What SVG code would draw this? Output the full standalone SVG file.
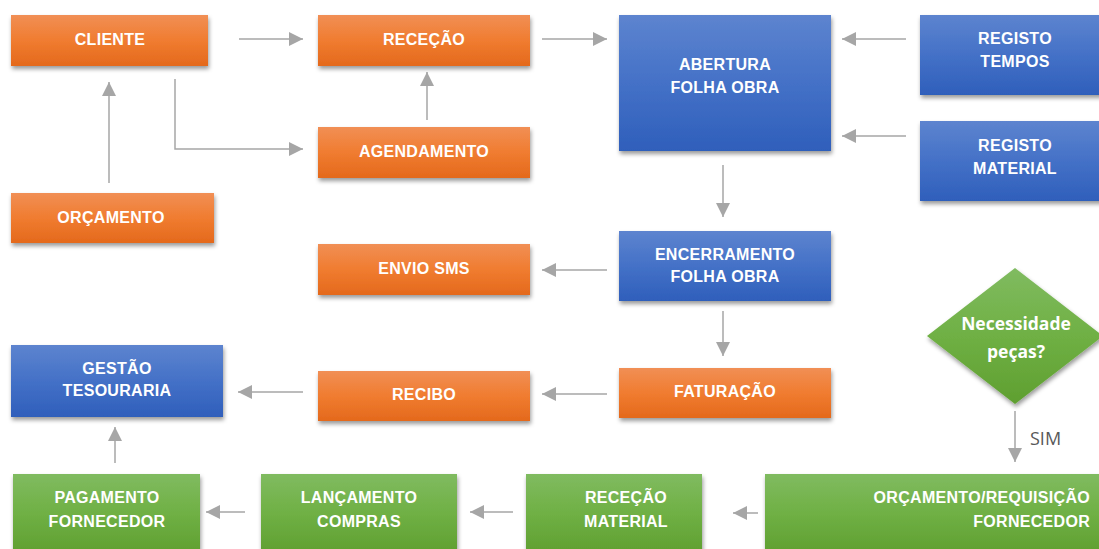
<svg xmlns="http://www.w3.org/2000/svg" width="1099" height="549" viewBox="0 0 1099 549">
<defs>
<linearGradient id="gO" x1="0" y1="0" x2="0" y2="1"><stop offset="0" stop-color="#f18f55"/><stop offset="0.5" stop-color="#f07c30"/><stop offset="1" stop-color="#e4691c"/></linearGradient>
<linearGradient id="gB" x1="0" y1="0" x2="0" y2="1"><stop offset="0" stop-color="#5d84cf"/><stop offset="0.5" stop-color="#4471c7"/><stop offset="1" stop-color="#2f5fbb"/></linearGradient>
<linearGradient id="gG" x1="0" y1="0" x2="0" y2="1"><stop offset="0" stop-color="#80bb60"/><stop offset="0.5" stop-color="#6fb044"/><stop offset="1" stop-color="#5f9f30"/></linearGradient>
<filter id="sh" x="-10%" y="-10%" width="130%" height="140%"><feDropShadow dx="1" dy="3" stdDeviation="2" flood-color="#000" flood-opacity="0.4"/></filter>
<marker id="ah" viewBox="0 0 10 10" refX="10" refY="5" markerWidth="16" markerHeight="14" markerUnits="userSpaceOnUse" orient="auto"><path d="M0,0 L10,5 L0,10 z" fill="#a6a6a6"/></marker>
</defs>
<style>
.o{fill:url(#gO);filter:url(#sh)}
.b{fill:url(#gB);filter:url(#sh)}
.g{fill:url(#gG);filter:url(#sh)}
.t{font-family:"Liberation Sans",Arial,sans-serif;font-weight:bold;font-size:16px;letter-spacing:0.3px;fill:#fff;text-anchor:middle}
.e{text-anchor:end}
.d{font-family:"Open Sans","Liberation Sans",sans-serif;font-weight:bold;font-size:17.5px;fill:#fff;text-anchor:middle}
.c{fill:none;stroke:#a6a6a6;stroke-width:1.5;marker-end:url(#ah)}
</style>
<rect width="1099" height="549" fill="#fff"/>
<g id="connectors">
<path class="c" d="M239,39 H303"/>
<path class="c" d="M542,39 H607"/>
<path class="c" d="M175,79 V149 H303"/>
<path class="c" d="M427,120 V72"/>
<path class="c" d="M109,183 V82"/>
<path class="c" d="M906,39 H842"/>
<path class="c" d="M906,136 H842"/>
<path class="c" d="M723,165 V217"/>
<path class="c" d="M607,270 H542"/>
<path class="c" d="M723,311 V356"/>
<path class="c" d="M607,394 H542"/>
<path class="c" d="M303,392 H238"/>
<path class="c" d="M115,463 V427"/>
<path class="c" d="M245,512 H206"/>
<path class="c" d="M513,512 H470"/>
<path class="c" d="M758,513 H733"/>
<path class="c" d="M1015,411 V462"/>
<text x="1030" y="445" font-family="'Open Sans','Liberation Sans',sans-serif" font-size="18" fill="#595959">SIM</text>
</g>
<g id="cliente"><rect class="o" x="11" y="15" width="197" height="51"/><text class="t" x="110" y="45">CLIENTE</text></g>
<g id="rececao"><rect class="o" x="318" y="15" width="212" height="51"/><text class="t" x="424" y="45">RECEÇÃO</text></g>
<g id="abertura"><rect class="b" x="619" y="15" width="212" height="136"/><text class="t" x="725" y="70">ABERTURA</text><text class="t" x="725" y="93">FOLHA OBRA</text></g>
<g id="registo-tempos"><rect class="b" x="920" y="15" width="185" height="80"/><text class="t" x="1015" y="44">REGISTO</text><text class="t" x="1015" y="67">TEMPOS</text></g>
<g id="registo-material"><rect class="b" x="920" y="121" width="185" height="80"/><text class="t" x="1015" y="151">REGISTO</text><text class="t" x="1015" y="174">MATERIAL</text></g>
<g id="agendamento"><rect class="o" x="318" y="127" width="212" height="51"/><text class="t" x="424" y="157">AGENDAMENTO</text></g>
<g id="orcamento"><rect class="o" x="11" y="193" width="203" height="50"/><text class="t" x="111" y="223">ORÇAMENTO</text></g>
<g id="envio-sms"><rect class="o" x="318" y="244" width="212" height="51"/><text class="t" x="424" y="274">ENVIO SMS</text></g>
<g id="encerramento"><rect class="b" x="619" y="231" width="212" height="70"/><text class="t" x="725" y="260">ENCERRAMENTO</text><text class="t" x="725" y="282">FOLHA OBRA</text></g>
<g id="gestao-tesouraria"><rect class="b" x="11" y="345" width="212" height="72"/><text class="t" x="117" y="374">GESTÃO</text><text class="t" x="117" y="396">TESOURARIA</text></g>
<g id="recibo"><rect class="o" x="318" y="371" width="212" height="50"/><text class="t" x="424" y="400">RECIBO</text></g>
<g id="faturacao"><rect class="o" x="619" y="368" width="212" height="50"/><text class="t" x="725" y="397">FATURAÇÃO</text></g>
<g id="necessidade"><polygon class="g" points="1015,268 1103,336 1015,404 927,336"/><text class="d" x="1016" y="330">Necessidade</text><text class="d" x="1016" y="358">peças?</text></g>
<g id="pagamento-fornecedor"><rect class="g" x="13" y="474" width="187" height="80"/><text class="t" x="107" y="503">PAGAMENTO</text><text class="t" x="107" y="527">FORNECEDOR</text></g>
<g id="lancamento-compras"><rect class="g" x="261" y="474" width="196" height="80"/><text class="t" x="359" y="503">LANÇAMENTO</text><text class="t" x="359" y="527">COMPRAS</text></g>
<g id="rececao-material"><rect class="g" x="526" y="474" width="176" height="80"/><text class="t" x="626" y="503">RECEÇÃO</text><text class="t" x="626" y="527">MATERIAL</text></g>
<g id="orcamento-requisicao"><rect class="g" x="765" y="474" width="340" height="80"/><text class="t e" x="1090" y="503">ORÇAMENTO/REQUISIÇÃO</text><text class="t e" x="1090" y="527">FORNECEDOR</text></g>
</svg>
